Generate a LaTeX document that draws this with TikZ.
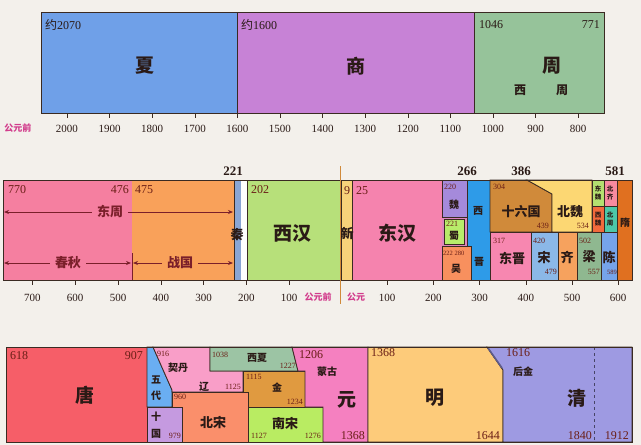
\documentclass[tikz,border=0pt]{standalone}
\usepackage{fontspec}
\setmainfont{Liberation Serif}
\newfontfamily\cjk{Noto Sans CJK SC}
\usepackage{tikz}
\usetikzlibrary{arrows.meta}

% Colours
\definecolor{paper}{HTML}{F3F0EB}
\definecolor{edge}{HTML}{3A2A22}
\definecolor{ink}{HTML}{2A1A16}
\definecolor{numred}{HTML}{6A1E16}
\definecolor{bcpink}{HTML}{D23C8C}
\definecolor{arrred}{HTML}{7A1F2A}
\definecolor{xiac}{HTML}{6FA0E8}
\definecolor{shangc}{HTML}{C782D6}
\definecolor{zhouc}{HTML}{96C39A}
\definecolor{chunqiuc}{HTML}{F57FA0}
\definecolor{zhanguoc}{HTML}{F9A15A}
\definecolor{qinc}{HTML}{8AA6D4}
\definecolor{xihanc}{HTML}{B7E07A}
\definecolor{xinc}{HTML}{F7D27A}
\definecolor{donghanc}{HTML}{F583AE}
\definecolor{weic}{HTML}{A58ADB}
\definecolor{shuc}{HTML}{B8EC6A}
\definecolor{wuc}{HTML}{F8905E}
\definecolor{xijinc}{HTML}{2E9BE8}
\definecolor{sixteenc}{HTML}{D08A3A}
\definecolor{beiweic}{HTML}{FCD773}
\definecolor{dongjinc}{HTML}{F787B0}
\definecolor{songc}{HTML}{8BB8E8}
\definecolor{qic}{HTML}{F6A25E}
\definecolor{liangc}{HTML}{8FB890}
\definecolor{chenc}{HTML}{76A4EA}
\definecolor{suic}{HTML}{E07020}
\definecolor{dongweic}{HTML}{B4E070}
\definecolor{beiqic}{HTML}{F88AA0}
\definecolor{xiweic}{HTML}{F26A3C}
\definecolor{beizhouc}{HTML}{4CC8A8}
\definecolor{tangc}{HTML}{F65E68}
\definecolor{wudaic}{HTML}{6AAEF2}
\definecolor{shiguoc}{HTML}{C59AE0}
\definecolor{liaoc}{HTML}{F99EC8}
\definecolor{beisongc}{HTML}{FA8F6B}
\definecolor{xixiac}{HTML}{9CC4A4}
\definecolor{jinc}{HTML}{E09A40}
\definecolor{nansongc}{HTML}{B9EC62}
\definecolor{yuanc}{HTML}{F580C0}
\definecolor{mingc}{HTML}{FDCB7A}
\definecolor{qingc}{HTML}{9E9AE2}

\begin{document}
\begin{tikzpicture}[x=1pt,y=-1pt,
    box/.style={draw=edge,line width=0.8pt},
    yr/.style={font=\fontsize{12}{12}\selectfont,text=numred,inner sep=0pt},
    yrb/.style={font=\bfseries\fontsize{13}{13}\selectfont,text=ink,inner sep=0pt},
    yrs/.style={font=\fontsize{8}{8}\selectfont,text=numred,inner sep=0pt},
    axlbl/.style={font=\fontsize{11}{11}\selectfont,text=ink,inner sep=0pt},
    big/.style={font=\cjk\bfseries\fontsize{19}{19}\selectfont,text=ink,inner sep=0pt},
    mid/.style={font=\cjk\bfseries\fontsize{13}{13}\selectfont,text=ink,inner sep=0pt},
    sm/.style={font=\cjk\bfseries\fontsize{10}{10}\selectfont,text=ink,inner sep=0pt},
    tinycn/.style={font=\cjk\bfseries\fontsize{6.5}{8}\selectfont,text=ink,inner sep=0pt,align=center},
    era/.style={font=\cjk\bfseries\fontsize{9}{9}\selectfont,text=bcpink,inner sep=0pt},
    span/.style={font=\cjk\bfseries\fontsize{13}{13}\selectfont,text=arrred,inner xsep=5pt,inner ysep=1pt},
    arr/.style={draw=arrred,line width=0.8pt,-{Stealth[length=5pt,width=4pt]}}
]

% Background
\useasboundingbox (0,0) rectangle (641,445);
\fill[paper] (0,0) rectangle (641,445);

% ---------------- Top row ----------------
\fill[xiac] (41,12) rectangle (237,113);
\fill[shangc] (237,12) rectangle (474,113);
\fill[zhouc] (474,12) rectangle (604,113);
\draw[box] (41,12) rectangle (604,113);
\draw[box] (237,12) -- (237,113);
\draw[box] (474,12) -- (474,113);

\node[yr,anchor=west,text=ink] (xiafrom) at (45,25) {{\cjk 约}2070};
\node[big] (xia) at (145,66) {夏};
\node[yr,anchor=west,text=ink] (shangfrom) at (241,25) {{\cjk 约}1600};
\node[big] (shang) at (356,66) {商};
\node[yr,anchor=west,text=ink] (zhoufrom) at (479,25) {1046};
\node[yr,anchor=east,text=ink] (zhouto) at (600,25) {771};
\node[big] (zhou) at (552,66) {周};
\node[mid,font=\cjk\bfseries\fontsize{12}{12}\selectfont] (xizhouA) at (520,90) {西};
\node[mid,font=\cjk\bfseries\fontsize{12}{12}\selectfont] (xizhouB) at (562,90) {周};

% Axis
\foreach \t [evaluate=\t as \px using {67+(2000-\t)*0.426}] in {2000,1900,...,800} {
  \draw[edge,line width=0.5pt] (\px,113) -- (\px,118);
  \node[axlbl] (topax\t) at (\px,129) {\t};
}
\node[era] (bctop) at (18,128) {公元前};

% ---------------- Middle row ----------------
\fill[chunqiuc] (3,180) rectangle (132,280);
\fill[zhanguoc] (132,180) rectangle (234,280);
\fill[qinc] (234,180) rectangle (241,280);
\fill[white] (241,180) rectangle (247,280);
\fill[xihanc] (247,180) rectangle (341,280);
\fill[xinc] (341,180) rectangle (352,280);
\fill[donghanc] (352,180) rectangle (442,280);
\draw[box] (234,180) -- (234,280);
\draw[box] (247,180) -- (247,280);
\draw[box] (341,180) -- (341,280);
\draw[box] (352,180) -- (352,280);

% Three Kingdoms and Jin
\fill[donghanc!70!weic] (442,180) rectangle (467,280);
\draw[box,fill=xijinc] (467,180) rectangle (490,280);
\draw[box,fill=weic] (442,180) rectangle (467,217);
\draw[box,fill=shuc] (444,219) rectangle (464,244);
\draw[box,fill=wuc] (442,246) rectangle (471,280);
\draw[box,fill=sixteenc] (490,180) -- (527,180) -- (552,194) -- (552,232) -- (490,232) -- cycle;
\draw[box,fill=beiweic] (527,180) -- (592,180) -- (592,232) -- (552,232) -- (552,194) -- cycle;
\draw[box,fill=dongweic] (592,180) rectangle (604,206);
\draw[box,fill=beiqic] (604,180) rectangle (617,206);
\draw[box,fill=xiweic] (592,206) rectangle (604,232);
\draw[box,fill=beizhouc] (604,206) rectangle (617,232);
\draw[box,fill=dongjinc] (490,232) rectangle (531,280);
\draw[box,fill=songc] (531,232) rectangle (558,280);
\draw[box,fill=qic] (558,232) rectangle (577,280);
\draw[box,fill=liangc] (577,232) rectangle (601,280);
\draw[box,fill=chenc] (601,232) rectangle (617,280);
\draw[box,fill=suic] (617,180) rectangle (632,280);
\draw[box] (3,180) rectangle (632,280);

% Years above
\node[yrb] (y221) at (233,171) {221};
\node[yrb] (y266) at (467,171) {266};
\node[yrb] (y386) at (521,171) {386};
\node[yrb] (y581) at (615,171) {581};

% Eastern Zhou spans
\node[yr,anchor=west] (dzfrom) at (8,190) {770};
\node[yr,anchor=east] (cqto) at (129,190) {476};
\node[yr,anchor=west] (zgfrom) at (135,190) {475};
\node[span,fill=chunqiuc] (dongzhou) at (110,212) {东周};
\coordinate (dzL) at (4,212);
\coordinate (dzR) at (233,212);
\draw[arr] (dongzhou) -- (dzL);
\draw[arr] (dongzhou) -- (dzR);
\node[span,fill=chunqiuc] (chunqiu) at (68,263) {春秋};
\node[span,fill=zhanguoc] (zhanguo) at (180,263) {战国};
\coordinate (cqL) at (4,263);
\coordinate (cqR) at (131,263);
\coordinate (zgL) at (133,263);
\coordinate (zgR) at (233,263);
\draw[arr] (chunqiu) -- (cqL);
\draw[arr] (chunqiu) -- (cqR);
\draw[arr] (zhanguo) -- (zgL);
\draw[arr] (zhanguo) -- (zgR);
\draw[arrred,line width=0.6pt] (132,253) -- (132,280);

% Qin and Han
\node[mid] (qin) at (237,235) {秦};
\node[yr,anchor=west] (xhfrom) at (251,190) {202};
\node[big] (xihan) at (292,233) {西汉};
\node[yr] (xinfrom) at (347,191) {9};
\node[mid] (xin) at (347,233) {新};
\node[yr,anchor=west] (dhfrom) at (356,191) {25};
\node[big] (donghan) at (397,233) {东汉};

% Three Kingdoms labels
\node[yrs,anchor=west] (weifrom) at (444,187) {220};
\node[sm] (wei) at (454,205) {魏};
\node[yrs,anchor=west] (shufrom) at (446,224) {221};
\node[sm] (shu) at (454,236) {蜀};
\node[yrs,anchor=west,font=\fontsize{6.5}{6.5}\selectfont] (wuyrs) at (443,253) {222 280};
\node[sm] (wu) at (456,269) {吴};
\node[sm] (xijinA) at (478,211) {西};
\node[sm] (xijinB) at (479,262) {晋};

% Northern and Southern dynasties labels
\node[yrs,anchor=west] (sixfrom) at (493,187) {304};
\node[mid] (sixteen) at (521,212) {十六国};
\node[yrs,anchor=east] (sixto) at (549,226) {439};
\node[mid] (beiwei) at (570,212) {北魏};
\node[yrs,anchor=east] (bwto) at (589,226) {534};
\node[tinycn] (dongwei) at (598,193) {东\\魏};
\node[tinycn] (beiqi) at (610,193) {北\\齐};
\node[tinycn] (xiwei) at (598,219) {西\\魏};
\node[tinycn] (beizhou) at (610,219) {北\\周};
\node[yrs,anchor=west] (djfrom) at (493,241) {317};
\node[mid] (dongjin) at (512,258) {东晋};
\node[yrs,anchor=west] (songfrom) at (533,241) {420};
\node[mid] (song) at (544,257) {宋};
\node[yrs,anchor=east] (songto) at (557,272) {479};
\node[mid] (qi) at (567,257) {齐};
\node[yrs,anchor=west] (liangfrom) at (579,241) {502};
\node[mid] (liang) at (589,257) {梁};
\node[yrs,anchor=east] (liangto) at (600,272) {557};
\node[mid] (chen) at (609,257) {陈};
\node[yrs,anchor=east,font=\fontsize{6.5}{6.5}\selectfont] (chento) at (617,272) {589};
\node[sm] (sui) at (625,223) {隋};

% Axis
\foreach \t [evaluate=\t as \px using {332-0.428*\t}] in {700,600,...,100} {
  \draw[edge,line width=0.5pt] (\px,280) -- (\px,285);
  \node[axlbl] (bcax\t) at (\px,298) {\t};
}
\foreach \t [evaluate=\t as \px using {341+0.462*\t}] in {100,200,...,600} {
  \draw[edge,line width=0.5pt] (\px,280) -- (\px,285);
  \node[axlbl] (adax\t) at (\px,298) {\t};
}
\draw[sixteenc,line width=0.6pt] (340,166) -- (340,304);
\node[era] (bcmid) at (318,297) {公元前};
\node[era] (admid) at (356,297) {公元};

% ---------------- Bottom row ----------------
\fill[tangc] (6,347) rectangle (147,442);
\draw[box,fill=wudaic] (147,347) -- (153,347) -- (172,390) -- (172,407) -- (147,407) -- cycle;
\draw[box,fill=shiguoc] (147,407) rectangle (182,442);
\draw[box,fill=liaoc] (153,347) -- (210,347) -- (210,371) -- (243,371) -- (243,392) -- (172,392) -- (172,390) -- cycle;
\draw[box,fill=beisongc] (172,392) -- (248,392) -- (248,442) -- (182,442) -- (182,407) -- (172,407) -- cycle;
\draw[box,fill=xixiac] (210,347) -- (292,347) -- (298,371) -- (210,371) -- cycle;
\draw[box,fill=jinc] (243,371) -- (305,371) -- (305,407) -- (248,407) -- (248,392) -- (243,392) -- cycle;
\draw[box,fill=nansongc] (248,407) rectangle (323,442);
\draw[box,fill=yuanc] (292,347) -- (368,347) -- (368,442) -- (323,442) -- (323,407) -- (305,407) -- (305,371) -- (298,371) -- cycle;
\draw[box,fill=mingc] (368,347) -- (487,347) -- (503,370) -- (503,442) -- (368,442) -- cycle;
\draw[box,fill=qingc] (487,347) -- (632,347) -- (632,442) -- (503,442) -- (503,370) -- cycle;
\draw[qingc!60!black,line width=1.6pt] (488,348) -- (502,368);
\draw[qingc!45!black,dashed,line width=0.8pt] (594,347) -- (594,442);
\draw[box] (6,347) rectangle (632,442);

% Tang to Song labels
\node[yr,anchor=west] (tangfrom) at (10,356) {618};
\node[yr,anchor=east] (tangto) at (143,356) {907};
\node[big] (tang) at (85,395) {唐};
\node[sm] (wudaiA) at (156,380) {五};
\node[sm] (wudaiB) at (156,396) {代};
\node[sm] (shiguoA) at (156,417) {十};
\node[sm] (shiguoB) at (156,434) {国};
\node[yrs,anchor=east] (shiguoto) at (181,436) {979};
\node[yrs,anchor=west] (liaofrom) at (157,354) {916};
\node[sm] (qidan) at (178,368) {契丹};
\node[sm] (liao) at (204,387) {辽};
\node[yrs,anchor=east] (liaoto) at (241,387) {1125};
\node[yrs,anchor=west] (bsfrom) at (174,397) {960};
\node[mid] (beisong) at (213,422) {北宋};
\node[yrs,anchor=west] (xxfrom) at (212,355) {1038};
\node[sm] (xixia) at (257,358) {西夏};
\node[yrs,anchor=east] (xxto) at (296,366) {1227};
\node[yrs,anchor=west] (jinfrom) at (246,377) {1115};
\node[sm] (jin) at (277,388) {金};
\node[yrs,anchor=east] (jinto) at (303,402) {1234};
\node[mid] (nansong) at (285,423) {南宋};
\node[yrs,anchor=west] (nsfrom) at (251,436) {1127};
\node[yrs,anchor=east] (nsto) at (321,436) {1276};

% Yuan, Ming, Qing labels
\node[yr,anchor=west] (mgfrom) at (299,355) {1206};
\node[sm] (menggu) at (327,372) {蒙古};
\node[big] (yuan) at (347,400) {元};
\node[yr,anchor=east] (yuanto) at (365,436) {1368};
\node[yr,anchor=west] (mingfrom) at (371,353) {1368};
\node[big] (ming) at (435,398) {明};
\node[yr,anchor=east] (mingto) at (500,436) {1644};
\node[yr,anchor=west] (hjfrom) at (506,353) {1616};
\node[sm] (houjin) at (523,372) {后金};
\node[big] (qing) at (577,398) {清};
\node[yr,anchor=east] (qingmid) at (592,436) {1840};
\node[yr,anchor=east] (qingto) at (629,436) {1912};

\end{tikzpicture}
\end{document}
